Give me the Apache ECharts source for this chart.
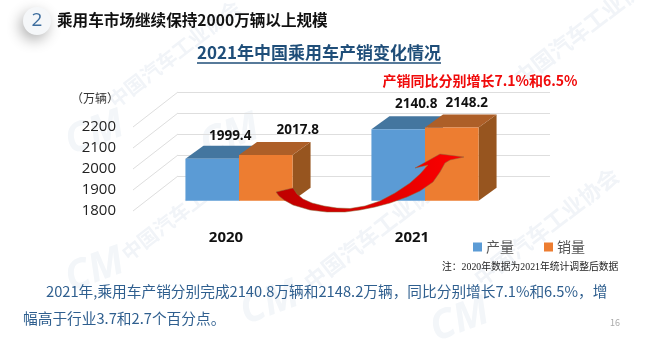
<!DOCTYPE html>
<html>
<head>
<meta charset="utf-8">
<style>
html, body { margin: 0; padding: 0; background: #fff; }
#chart { width: 662px; height: 355px; }
</style>
<script src="https://cdn.jsdelivr.net/npm/echarts@6/dist/echarts.min.js"></script>
</head>
<body>
<div id="chart"></div>
<script>
let years = ['2020', '2021'];
let production = [1999.4, 2140.8];
let sales = [2017.8, 2148.2];
let yTicks = [1800, 1900, 2000, 2100, 2200];

let cjk = '"Noto Sans CJK SC", "Noto Sans", sans-serif';
let depth = { x: 18, y: 13 };      // bar depth
let wallDepth = { x: 45, y: 35 };  // floor depth
let barRatio = 0.288;

// data label offset from the middle of a bar top, [series][year]
let labelShift = [
    [[18, -23], [18, -25]],
    [[32, -25], [15, -24]]
];

function box3d(seriesIndex, colors) {
    return function (params, api) {
        let i = api.value(0);
        let p = api.coord([i, api.value(1)]);
        let base = api.coord([i, 1800]);
        let w = api.size([1, 0])[0] * barRatio;
        let x0 = seriesIndex === 0 ? p[0] - w : p[0];
        let x1 = x0 + w;
        let top = p[1];
        let bottom = base[1];
        let shift = labelShift[seriesIndex][i];
        return {
            type: 'group',
            children: [{
                type: 'polygon',
                shape: { points: [[x1, top], [x1 + depth.x, top - depth.y], [x1 + depth.x, bottom - depth.y], [x1, bottom]] },
                style: { fill: colors.side }
            }, {
                type: 'polygon',
                shape: { points: [[x0, top], [x0 + depth.x, top - depth.y], [x1 + depth.x, top - depth.y], [x1, top]] },
                style: { fill: colors.top }
            }, {
                type: 'rect',
                shape: { x: x0, y: top, width: w, height: bottom - top },
                style: { fill: colors.front }
            }, {
                type: 'text',
                x: (x0 + x1) / 2 + shift[0],
                y: top + shift[1],
                z2: 20,
                style: {
                    text: api.value(1).toFixed(1),
                    fill: '#111',
                    font: 'bold 13.5px "Open Sans", sans-serif',
                    align: 'center',
                    verticalAlign: 'middle'
                }
            }]
        };
    };
}

function wallEdges(params, api) {
    let p = api.coord([0, api.value(0)]);
    let x = params.coordSys.x;
    return {
        type: 'line',
        shape: { x1: x, y1: p[1], x2: x - wallDepth.x, y2: p[1] + wallDepth.y },
        style: { stroke: '#dedede', lineWidth: 1 }
    };
}

function watermark(text, x, y, size) {
    return {
        type: 'text', x: x, y: y, rotation: 0.66, z: -10, silent: true,
        style: { text: text, fill: '#f1f4f8', font: 'bold ' + size + 'px ' + cjk }
    };
}

function logo(x, y) {
    return {
        type: 'text', x: x, y: y, rotation: 0.35, z: -10, silent: true,
        style: { text: 'CM', fill: '#f3f6f9', font: 'italic bold 40px "Open Sans", sans-serif' }
    };
}

let myChart = echarts.init(document.getElementById('chart'));

let option = {
    animation: false,
    backgroundColor: '#fff',
    textStyle: { fontFamily: cjk },
    legend: {
        left: 468,
        top: 235,
        itemWidth: 9,
        itemHeight: 9,
        itemGap: 30,
        icon: 'rect',
        selectedMode: false,
        textStyle: { fontSize: 14, color: '#555', padding: [0, 0, 0, -1] },
        data: ['产量', '销量']
    },
    grid: [
        { left: 146, top: 116.7, width: 372, height: 84 },   // plane of the bar fronts
        { left: 133, top: 127, width: 372, height: 84 },     // front plane, holds the labels
        { left: 178, top: 92, width: 372, height: 84 }       // back wall
    ],
    xAxis: [
        { gridIndex: 0, type: 'category', data: years, show: false },
        {
            gridIndex: 1, type: 'category', data: years,
            axisLine: { show: false }, axisTick: { show: false },
            axisLabel: { margin: 19, fontSize: 15, fontWeight: 'bold', color: '#111', fontFamily: '"Open Sans", sans-serif' }
        },
        { gridIndex: 2, type: 'category', data: years, show: false }
    ],
    yAxis: [
        { gridIndex: 0, type: 'value', min: 1800, max: 2200, interval: 100, show: false },
        {
            gridIndex: 1, type: 'value', min: 1800, max: 2200, interval: 100,
            axisLine: { show: false }, axisTick: { show: false }, splitLine: { show: false },
            axisLabel: {
                margin: 17, fontSize: 15, color: '#222', fontFamily: '"Open Sans", sans-serif',
                formatter: function (v) { return String(v); }
            }
        },
        {
            gridIndex: 2, type: 'value', min: 1800, max: 2200, interval: 100,
            axisLine: { show: false }, axisTick: { show: false }, axisLabel: { show: false },
            splitLine: { lineStyle: { color: '#dedede', width: 1 } }
        }
    ],
    series: [{
        type: 'custom',
        xAxisIndex: 2,
        yAxisIndex: 2,
        silent: true,
        data: yTicks.map(function (v) { return [v]; }),
        encode: { y: 0 },
        renderItem: wallEdges
    }, {
        name: '产量',
        type: 'custom',
        xAxisIndex: 0,
        yAxisIndex: 0,
        itemStyle: { color: '#5b9bd5' },
        data: production.map(function (v, i) { return [i, v]; }),
        renderItem: box3d(0, { front: '#5b9bd5', top: '#44769f', side: '#3f6f9c' })
    }, {
        name: '销量',
        type: 'custom',
        xAxisIndex: 0,
        yAxisIndex: 0,
        itemStyle: { color: '#ed7d31' },
        data: sales.map(function (v, i) { return [i, v]; }),
        renderItem: box3d(1, { front: '#ed7d31', top: '#ad5f28', side: '#97551f' })
    }],
    graphic: [
        watermark('中国汽车工业协会', 105, 95, 20),
        watermark('中国汽车工业协会', 118, 248, 20),
        watermark('中国汽车工业协会', 300, 276, 22),
        watermark('中国汽车工业协会', 470, 272, 22),
        watermark('中国汽车工业协会', 510, 72, 22),
        logo(60, 262), logo(235, 295), logo(60, 125), logo(195, 128), logo(425, 312),
        {
            type: 'circle', shape: { cx: 37, cy: 21, r: 14 }, z: 1,
            style: { fill: '#f5f7f9', shadowBlur: 14, shadowColor: 'rgba(0,0,0,0.3)', shadowOffsetX: -3, shadowOffsetY: 5 }
        },
        {
            type: 'text', x: 37, y: 21, z: 2,
            style: { text: '2', fill: '#3d6d9e', font: '19px "Open Sans", sans-serif', align: 'center', verticalAlign: 'middle' }
        },
        {
            type: 'text', x: 57, y: 20, z: 2,
            style: { text: '乘用车市场继续保持2000万辆以上规模', fill: '#111', font: 'bold 15.6px ' + cjk, verticalAlign: 'middle' }
        },
        {
            type: 'text', x: 319, y: 53, z: 2,
            style: { text: '2021年中国乘用车产销变化情况', fill: '#1f4e79', font: 'bold 17px ' + cjk, align: 'center', verticalAlign: 'middle' }
        },
        { type: 'line', z: 2, shape: { x1: 197, y1: 63, x2: 441, y2: 63 }, style: { stroke: '#1f4e79', lineWidth: 1.5 } },
        {
            type: 'text', x: 480, y: 81, z: 30,
            style: {
                text: '产销同比分别增长7.1%和6.5%', fill: '#f00a0a', font: 'bold 14px ' + cjk,
                align: 'center', verticalAlign: 'middle', shadowBlur: 9, shadowColor: 'rgba(240,80,80,0.5)'
            }
        },
        {
            type: 'text', x: 95, y: 98, z: 2,
            style: { text: '（万辆）', fill: '#333', font: '12px ' + cjk, align: 'center', verticalAlign: 'middle' }
        },
        {
            // growth arrow between the two years
            type: 'polygon', z: 30, silent: true,
            shape: {
                points: [[276, 192], [293, 188], [297, 194], [303, 199], [312, 203], [324, 206], [337, 208], [350, 208.5], [365, 206], [380, 201], [395, 193], [410, 183], [420, 174], [428, 165], [415, 168], [440, 154], [464, 157], [450, 160], [445, 163], [440, 172], [433, 182], [420, 191], [407, 197], [390, 203], [375, 207], [360, 210], [345, 212], [327, 212], [310, 210], [293, 205], [284, 200], [279, 196]]
            },
            style: {
                stroke: '#8a6a3a',
                lineWidth: 0.5,
                fill: new echarts.graphic.LinearGradient(0, 0, 1, 0, [
                    { offset: 0, color: '#bf0000' },
                    { offset: 0.45, color: '#d80000' },
                    { offset: 1, color: '#ff0000' }
                ])
            }
        },
        {
            type: 'text', x: 442, y: 267, z: 2,
            style: { text: '注：2020年数据为2021年统计调整后数据', fill: '#222', font: '9.8px "Liberation Serif", ' + cjk, verticalAlign: 'middle' }
        },
        {
            type: 'text', x: 46, y: 291, z: 2,
            style: { text: '2021年,乘用车产销分别完成2140.8万辆和2148.2万辆，同比分别增长7.1%和6.5%，增', fill: '#2f5f8f', font: '14.7px ' + cjk, verticalAlign: 'middle' }
        },
        {
            type: 'text', x: 23, y: 318, z: 2,
            style: { text: '幅高于行业3.7和2.7个百分点。', fill: '#2f5f8f', font: '14.7px ' + cjk, verticalAlign: 'middle' }
        },
        {
            type: 'text', x: 615, y: 323, z: 2,
            style: { text: '16', fill: '#aaa', font: '9px ' + cjk, align: 'center', verticalAlign: 'middle' }
        }
    ]
};

myChart.setOption(option);
</script>
</body>
</html>
